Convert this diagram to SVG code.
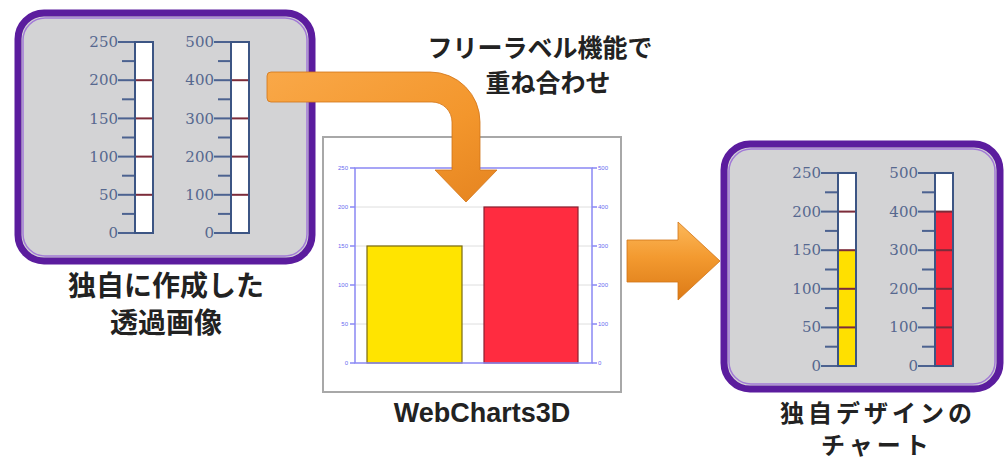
<svg xmlns="http://www.w3.org/2000/svg" xmlns:xlink="http://www.w3.org/1999/xlink" width="1005" height="462" viewBox="0 0 1005 462">
<defs>
  <linearGradient id="orangeH" x1="0" y1="0" x2="0" y2="1">
    <stop offset="0" stop-color="#fcb85a"/>
    <stop offset="0.45" stop-color="#f39a30"/>
    <stop offset="1" stop-color="#dc7a16"/>
  </linearGradient>
  <linearGradient id="orangeBent" x1="0" y1="0" x2="1" y2="1">
    <stop offset="0" stop-color="#f9a848"/>
    <stop offset="0.6" stop-color="#f3962c"/>
    <stop offset="1" stop-color="#e58420"/>
  </linearGradient>
  <g id="scale">
    <g class="minor">
      <line x1="-13" y1="19.1" x2="0" y2="19.1"/>
      <line x1="-13" y1="57.3" x2="0" y2="57.3"/>
      <line x1="-13" y1="95.5" x2="0" y2="95.5"/>
      <line x1="-13" y1="133.7" x2="0" y2="133.7"/>
      <line x1="-13" y1="171.9" x2="0" y2="171.9"/>
    </g>
    <g class="major">
      <line x1="-17" y1="0" x2="0" y2="0"/>
      <line x1="-17" y1="38.2" x2="0" y2="38.2"/>
      <line x1="-17" y1="76.4" x2="0" y2="76.4"/>
      <line x1="-17" y1="114.6" x2="0" y2="114.6"/>
      <line x1="-17" y1="152.8" x2="0" y2="152.8"/>
      <line x1="-17" y1="191" x2="0" y2="191"/>
    </g>
    <g class="inner">
      <line x1="0" y1="38.2" x2="18" y2="38.2"/>
      <line x1="0" y1="76.4" x2="18" y2="76.4"/>
      <line x1="0" y1="114.6" x2="18" y2="114.6"/>
      <line x1="0" y1="152.8" x2="18" y2="152.8"/>
    </g>
    <rect class="tube" x="0" y="0" width="18" height="191"/>
  </g>
</defs>
<style>
  .panel { fill: #d3d3d5; stroke: #5b1c9e; stroke-width: 7; }
  .panelIn { fill: none; stroke: #a27ad6; stroke-width: 1.5; }
  .minor line, .major line { stroke: #4c6290; stroke-width: 2; }
  .inner line { stroke: #7c2c3a; stroke-width: 2; }
  .tube { fill: none; stroke: #3c5584; stroke-width: 2; }
  .num { font-family: "DejaVu Serif", "Liberation Serif", serif; font-size: 15px; fill: #56688f; text-anchor: end; }
  .jp { font-family: "Noto Sans CJK JP", sans-serif; font-weight: bold; fill: #222; text-anchor: middle; }
  .axis { stroke: #8a88f4; stroke-width: 1.5; fill: none; }
  .grid { stroke: #dedede; stroke-width: 1; }
  .ax { font-family: "Liberation Sans", sans-serif; font-size: 6px; fill: #6a6af0; }
  .arrow { stroke: #d07418; stroke-width: 0.8; }
</style>
<rect x="0" y="0" width="1005" height="462" fill="#ffffff"/>

<g id="source-image">
  <rect class="panel" x="18" y="13" width="294" height="248" rx="26" ry="26"/>
  <rect class="panelIn" x="23" y="18" width="284" height="238" rx="22" ry="22"/>
  <rect x="135" y="42" width="18" height="191" fill="#ffffff"/>
  <use xlink:href="#scale" transform="translate(135,42)"/>
  <text class="num" x="118" y="47">250</text>
  <text class="num" x="118" y="85">200</text>
  <text class="num" x="118" y="124">150</text>
  <text class="num" x="118" y="162">100</text>
  <text class="num" x="118" y="200">50</text>
  <text class="num" x="118" y="238">0</text>
  <rect x="231" y="42" width="18" height="191" fill="#ffffff"/>
  <use xlink:href="#scale" transform="translate(231,42)"/>
  <text class="num" x="214" y="47">500</text>
  <text class="num" x="214" y="85">400</text>
  <text class="num" x="214" y="124">300</text>
  <text class="num" x="214" y="162">200</text>
  <text class="num" x="214" y="200">100</text>
  <text class="num" x="214" y="238">0</text>
  <text class="jp" x="166" y="296" font-size="28">独自に作成した</text>
  <text class="jp" x="166" y="333" font-size="28">透過画像</text>
</g>

<g id="webcharts">
  <rect x="323" y="137" width="298" height="255" fill="#ffffff" stroke="#a8a8a8" stroke-width="2"/>
  <line class="grid" x1="355" y1="207" x2="592" y2="207"/>
  <line class="grid" x1="355" y1="246" x2="592" y2="246"/>
  <line class="grid" x1="355" y1="285" x2="592" y2="285"/>
  <line class="grid" x1="355" y1="324" x2="592" y2="324"/>
  <rect x="367" y="246" width="95" height="117" fill="#ffe400" stroke="#7a6a10" stroke-width="1.2"/>
  <rect x="484" y="207" width="94" height="156" fill="#ff2c40" stroke="#8a2030" stroke-width="1.2"/>
  <rect class="axis" x="355" y="168" width="237" height="195"/>
  <g class="axis">
    <line x1="350" y1="168" x2="355" y2="168"/>
    <line x1="350" y1="207" x2="355" y2="207"/>
    <line x1="350" y1="246" x2="355" y2="246"/>
    <line x1="350" y1="285" x2="355" y2="285"/>
    <line x1="350" y1="324" x2="355" y2="324"/>
    <line x1="350" y1="363" x2="355" y2="363"/>
    <line x1="592" y1="168" x2="597" y2="168"/>
    <line x1="592" y1="207" x2="597" y2="207"/>
    <line x1="592" y1="246" x2="597" y2="246"/>
    <line x1="592" y1="285" x2="597" y2="285"/>
    <line x1="592" y1="324" x2="597" y2="324"/>
    <line x1="592" y1="363" x2="597" y2="363"/>
  </g>
  <g class="ax" text-anchor="end">
    <text x="348" y="170">250</text>
    <text x="348" y="209">200</text>
    <text x="348" y="248">150</text>
    <text x="348" y="287">100</text>
    <text x="348" y="326">50</text>
    <text x="348" y="365">0</text>
  </g>
  <g class="ax">
    <text x="598" y="170">500</text>
    <text x="598" y="209">400</text>
    <text x="598" y="248">300</text>
    <text x="598" y="287">200</text>
    <text x="598" y="326">100</text>
    <text x="598" y="365">0</text>
  </g>
  <text x="482" y="422" font-family="Liberation Sans, sans-serif" font-weight="bold" font-size="27" fill="#222" text-anchor="middle">WebCharts3D</text>
</g>

<g id="result-chart">
  <rect class="panel" x="724" y="144" width="276" height="245" rx="26" ry="26"/>
  <rect class="panelIn" x="729" y="149" width="266" height="235" rx="22" ry="22"/>
  <g transform="translate(838,173) scale(1,1.0105)">
    <rect x="0" y="0" width="18" height="191" fill="#ffffff"/>
    <rect x="0" y="76.4" width="18" height="114.6" fill="#ffe000"/>
    <use xlink:href="#scale"/>
  </g>
  <text class="num" x="821" y="178">250</text>
  <text class="num" x="821" y="217">200</text>
  <text class="num" x="821" y="255">150</text>
  <text class="num" x="821" y="294">100</text>
  <text class="num" x="821" y="332">50</text>
  <text class="num" x="821" y="371">0</text>
  <g transform="translate(935,173) scale(1,1.0105)">
    <rect x="0" y="0" width="18" height="191" fill="#ffffff"/>
    <rect x="0" y="38.2" width="18" height="152.8" fill="#f8283c"/>
    <use xlink:href="#scale"/>
  </g>
  <text class="num" x="918" y="178">500</text>
  <text class="num" x="918" y="217">400</text>
  <text class="num" x="918" y="255">300</text>
  <text class="num" x="918" y="294">200</text>
  <text class="num" x="918" y="332">100</text>
  <text class="num" x="918" y="371">0</text>
  <text class="jp" x="878" y="422" font-size="24" letter-spacing="4">独自デザインの</text>
  <text class="jp" x="877" y="454" font-size="24" letter-spacing="4">チャート</text>
</g>

<g id="overlay-label">
  <text class="jp" x="540" y="57" font-size="25">フリーラベル機能で</text>
  <text class="jp" x="548" y="92" font-size="25">重ね合わせ</text>
</g>

<g id="connectors">
  <path class="arrow" fill="url(#orangeBent)" d="M271,72 L430,72 A50,50 0 0 1 480,122 L480,170 L497,170 L466,202 L435,170 L452,170 L452,122 A20,20 0 0 0 432,102 L271,102 Q267,102 267,98 L267,76 Q267,72 271,72 Z"/>
  <path class="arrow" fill="url(#orangeH)" d="M627,240 L678,240 L678,222 L720,261 L678,300 L678,282 L627,282 Z"/>
</g>
</svg>
